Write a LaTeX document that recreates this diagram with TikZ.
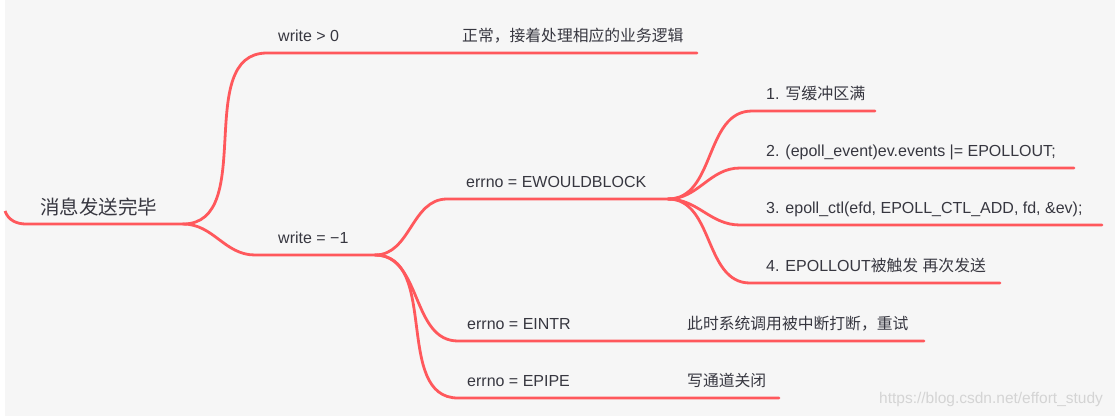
\documentclass[tikz,border=0pt]{standalone}
\usepackage{fontspec}
\setmainfont{Liberation Sans}
\newfontfamily\cjk{Noto Sans CJK SC}
\definecolor{bgray}{RGB}{246,246,246}
\definecolor{branchred}{RGB}{255,88,92}
\definecolor{txt}{RGB}{55,55,64}
\definecolor{wmark}{RGB}{212,212,212}
\begin{document}
\begin{tikzpicture}[x=1pt,y=-1pt,
  lbl/.style={anchor=base west,inner sep=0pt,text=txt,font=\fontsize{16}{19}\selectfont},
  cjklbl/.style={anchor=base west,inner sep=0pt,text=txt,font={\cjk\fontsize{15.8}{19}\selectfont}},
  rootlbl/.style={anchor=base west,inner sep=0pt,text=txt,font={\cjk\fontsize{19.5}{23}\selectfont}},
  limb/.style={draw=branchred,line width=2.8pt,line cap=round},
  link/.style={out=0,in=180}]
\useasboundingbox (0,0) rectangle (1115,416);
\fill[white] (0,0) rectangle (1115,416);
\fill[bgray] (5,0) rectangle (1115,416);

% coordinates
\coordinate (r0) at (5,211);
\coordinate (r1) at (26,224);
\coordinate (j0) at (183,224);
\coordinate (w1s) at (267,53);
\coordinate (w1e) at (697,53);
\coordinate (w2s) at (255,255);
\coordinate (j1) at (375,255);
\coordinate (ews) at (447,199);
\coordinate (j2) at (668,199);
\coordinate (i1s) at (752,111);
\coordinate (i1e) at (875,111);
\coordinate (i2s) at (740,168);
\coordinate (i2e) at (1074,168);
\coordinate (i3s) at (740,225);
\coordinate (i3e) at (1102,225);
\coordinate (i4s) at (750,283);
\coordinate (i4e) at (1000,283);
\coordinate (eis) at (458,341);
\coordinate (eie) at (924,341);
\coordinate (eps) at (458,398);
\coordinate (epe) at (779,398);

% branches
\draw[limb,line cap=butt] (r0) to[out=-70,in=180] (r1) -- (j0);
\draw[limb] (j0) to[link] (w1s) -- (w1e);
\draw[limb] (j0) to[link] (w2s) -- (j1);
\draw[limb] (j1) to[link] (ews) -- (j2);
\draw[limb] (j2) to[link] (i1s) -- (i1e);
\draw[limb] (j2) to[link] (i2s) -- (i2e);
\draw[limb] (j2) to[link] (i3s) -- (i3e);
\draw[limb] (j2) to[link] (i4s) -- (i4e);
\draw[limb] (j1) to[link] (eis) -- (eie);
\draw[limb] (j1) to[link] (eps) -- (epe);

% labels
\node[rootlbl] (root) at (40,214) {消息发送完毕};
\node[lbl] (wgt) at (278,41) {write > 0};
\node[cjklbl] (wgtr) at (462,41) {正常，接着处理相应的业务逻辑};
\node[lbl] (weq) at (278,243) {write = −1};
\node[lbl] (ewb) at (466,187) {errno = EWOULDBLOCK};
\node[lbl] (it1) at (766,99) {1. {\cjk 写缓冲区满}};
\node[lbl] (it2) at (766,156) {2. (epoll\_event)ev.events |= EPOLLOUT;};
\node[lbl] (it3) at (766,213) {3. epoll\_ctl(efd, EPOLL\_CTL\_ADD, fd, \&ev);};
\node[lbl] (it4) at (766,271) {4. EPOLLOUT{\cjk\fontsize{15.8}{19}\selectfont 被触发} {\cjk\fontsize{15.8}{19}\selectfont 再次发送}};
\node[lbl] (eintr) at (467,329) {errno = EINTR};
\node[cjklbl] (eintrr) at (687,329) {此时系统调用被中断打断，重试};
\node[lbl] (epipe) at (467,386) {errno = EPIPE};
\node[cjklbl] (epiper) at (687,386) {写通道关闭};
\node[anchor=base west,inner sep=0pt,text=wmark,font=\fontsize{15.5}{18}\selectfont] (wm) at (879,403) {https://blog.csdn.net/effort\_study};
\end{tikzpicture}
\end{document}
